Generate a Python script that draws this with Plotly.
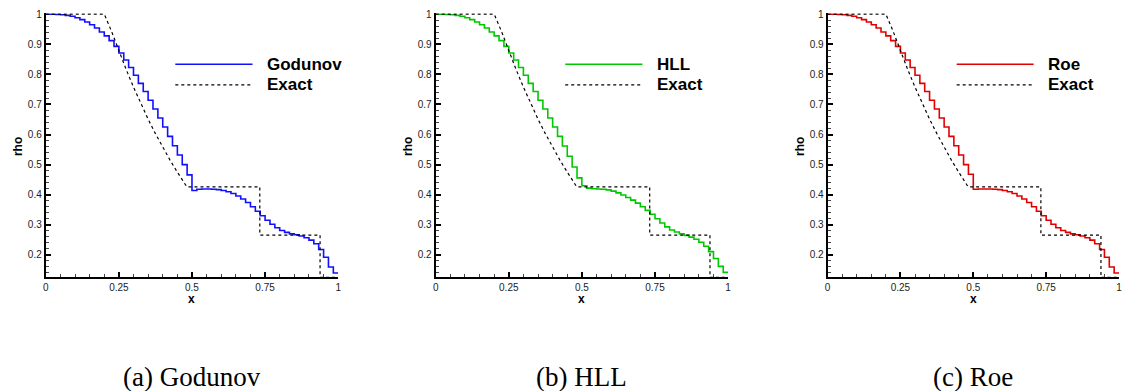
import plotly.graph_objects as go

# ---------------- data ----------------
n_cells = 60  # uniform grid on [0, 1]

godunov = [1.000, 1.000, 0.999, 0.998, 0.996, 0.993,
           0.988, 0.982, 0.974, 0.965, 0.954, 0.941,
           0.928, 0.912, 0.893, 0.871, 0.848, 0.823,
           0.797, 0.770, 0.743, 0.714, 0.685, 0.655,
           0.625, 0.594, 0.563, 0.532, 0.500, 0.466,
           0.414, 0.418, 0.419, 0.419, 0.418, 0.417,
           0.414, 0.410, 0.404, 0.396, 0.386, 0.374,
           0.360, 0.345, 0.330, 0.315, 0.302, 0.290,
           0.281, 0.275, 0.270, 0.267, 0.263, 0.257,
           0.249, 0.237, 0.218, 0.192, 0.160, 0.140]

hll = [1.000, 1.000, 0.999, 0.998, 0.996, 0.993,
       0.988, 0.982, 0.974, 0.965, 0.954, 0.941,
       0.928, 0.912, 0.893, 0.871, 0.848, 0.823,
       0.797, 0.770, 0.743, 0.714, 0.685, 0.655,
       0.625, 0.594, 0.562, 0.528, 0.492, 0.456,
       0.430, 0.422, 0.420, 0.419, 0.418, 0.416,
       0.412, 0.406, 0.399, 0.391, 0.382, 0.372,
       0.360, 0.348, 0.335, 0.320, 0.306, 0.293,
       0.283, 0.276, 0.270, 0.265, 0.259, 0.252,
       0.242, 0.229, 0.211, 0.188, 0.162, 0.142]

roe = [1.000, 1.000, 0.999, 0.998, 0.996, 0.993,
       0.988, 0.982, 0.974, 0.965, 0.954, 0.941,
       0.928, 0.912, 0.893, 0.871, 0.848, 0.823,
       0.797, 0.770, 0.743, 0.714, 0.685, 0.655,
       0.625, 0.594, 0.563, 0.532, 0.500, 0.468,
       0.418, 0.419, 0.419, 0.419, 0.418, 0.417,
       0.414, 0.410, 0.404, 0.396, 0.386, 0.374,
       0.360, 0.345, 0.330, 0.315, 0.302, 0.290,
       0.281, 0.275, 0.270, 0.267, 0.263, 0.257,
       0.249, 0.237, 0.218, 0.192, 0.160, 0.140]

exact_x = [0.0, 0.2, 0.225, 0.25, 0.275, 0.3, 0.325, 0.35, 0.375, 0.4,
           0.425, 0.45, 0.475, 0.4825, 0.7319, 0.7319, 0.938, 0.938, 1.0]
exact_rho = [1.0, 1.0, 0.943, 0.878, 0.816, 0.758, 0.703, 0.651, 0.603, 0.557,
             0.515, 0.475, 0.437, 0.426, 0.426, 0.266, 0.266, 0.125, 0.125]

schemes = ["Godunov", "HLL", "Roe"]
series = [godunov, hll, roe]
colors = ["#1010ff", "#00c800", "#e00000"]
captions = ["(a) Godunov", "(b) HLL", "(c) Roe"]

x_ticks = [0, 0.25, 0.5, 0.75, 1]
x_ticktext = ["0", "0.25", "0.5", "0.75", "1"]
y_ticks = [0.2, 0.3, 0.4, 0.5, 0.6, 0.7, 0.8, 0.9, 1.0]
y_ticktext = ["0.2", "0.3", "0.4", "0.5", "0.6", "0.7", "0.8", "0.9", "1"]

# ---------------- layout geometry ----------------
W, H = 1123, 391
x_domains = [[43 / W, 337 / W], [435 / W, 729 / W], [829 / W, 1122 / W]]
y_domain = [1 - 276 / H, 1 - 8.4 / H]

SANS = "Liberation Sans, Arial, sans-serif"
SERIF = "Liberation Serif, Times New Roman, serif"

edges = [i / n_cells for i in range(n_cells + 1)]

fig = go.Figure()
layout = dict(
    width=W, height=H,
    margin=dict(l=0, r=0, t=0, b=0),
    paper_bgcolor="white", plot_bgcolor="white",
    showlegend=False,
    font=dict(family=SANS, color="#222"),
)
shapes = []
annotations = []

for k, (name, vals, col, cap) in enumerate(zip(schemes, series, colors, captions)):
    sfx = "" if k == 0 else str(k + 1)
    xa, ya = "x" + sfx, "y" + sfx
    fig.add_trace(go.Scatter(
        x=edges, y=vals + [vals[-1]], mode="lines", line_shape="hv",
        line=dict(color=col, width=1.6), name=name, xaxis=xa, yaxis=ya))
    fig.add_trace(go.Scatter(
        x=exact_x, y=exact_rho, mode="lines",
        line=dict(color="black", width=1.2, dash="dot"),
        name="Exact", xaxis=xa, yaxis=ya))

    layout["xaxis" + sfx] = dict(
        domain=x_domains[k], anchor=ya, range=[0, 1],
        tickvals=x_ticks, ticktext=x_ticktext,
        ticks="inside", ticklen=5, tickwidth=1.6, tickcolor="black",
        minor=dict(tick0=0, dtick=0.05, ticks="inside", ticklen=3,
                   tickwidth=1, tickcolor="#444"),
        showline=True, linewidth=2, linecolor="black", mirror=False,
        showgrid=False, zeroline=False,
        tickfont=dict(size=10, family=SANS, color="#222"),
    )
    layout["yaxis" + sfx] = dict(
        domain=y_domain, anchor=xa, range=[0.125, 1.003],
        tickvals=y_ticks, ticktext=y_ticktext,
        ticks="inside", ticklen=5, tickwidth=1.6, tickcolor="black",
        minor=dict(tick0=0, dtick=0.02, ticks="inside", ticklen=3,
                   tickwidth=1, tickcolor="#444"),
        showline=True, linewidth=2, linecolor="black", mirror=False,
        showgrid=False, zeroline=False,
        tickfont=dict(size=10, family=SANS, color="#222"),
    )

    # axis titles
    x0px = x_domains[k][0] * W
    annotations.append(dict(text="<b>x</b>", xref="paper", yref="paper",
                            x=sum(x_domains[k]) / 2, y=1 - 298 / H,
                            xanchor="center", yanchor="middle", showarrow=False,
                            font=dict(size=12, family=SANS, color="black")))
    annotations.append(dict(text="<b>rho</b>", xref="paper", yref="paper",
                            x=(x0px - 28) / W, y=1 - 143 / H, textangle=-90,
                            xanchor="center", yanchor="middle", showarrow=False,
                            font=dict(size=12, family=SANS, color="black")))

    # in-plot legend
    for j, (label, lc, dash, ly) in enumerate([(name, col, "solid", 0.807),
                                               ("Exact", "black", "dot", 0.729)]):
        shapes.append(dict(type="line", xref=xa + " domain", yref=ya + " domain",
                           x0=0.443, x1=0.707, y0=ly, y1=ly,
                           line=dict(color=lc, width=1.6 if j == 0 else 1.2, dash=dash)))
        annotations.append(dict(text="<b>%s</b>" % label, xref=xa + " domain",
                                yref=ya + " domain", x=0.75, y=ly, xanchor="left",
                                yanchor="middle", showarrow=False,
                                font=dict(size=17, family=SANS, color="black")))
    # caption
    annotations.append(dict(text=cap, xref="paper", yref="paper",
                             x=sum(x_domains[k]) / 2, y=1 - 377 / H,
                             xanchor="center", yanchor="middle", showarrow=False,
                             font=dict(size=27, family=SERIF, color="black")))

layout["shapes"] = shapes
layout["annotations"] = annotations
fig.update_layout(**layout)
fig.write_html("out.html")
